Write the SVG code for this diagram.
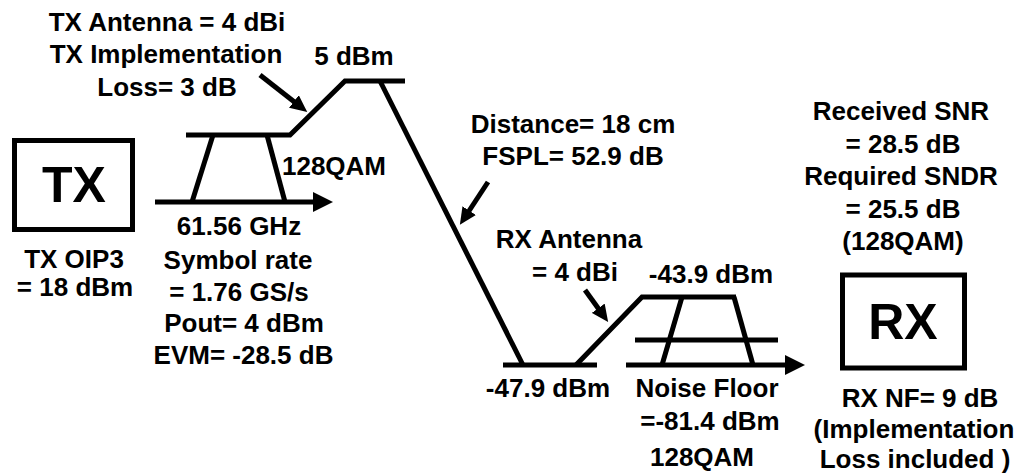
<svg xmlns="http://www.w3.org/2000/svg" width="1022" height="475" viewBox="0 0 1022 475">
<style>
text{font-family:"Liberation Sans",Arial,sans-serif;font-weight:bold;font-size:26px;fill:#000;text-anchor:middle}
.big{font-size:50px}
.ln{fill:none;stroke:#000;stroke-width:5;stroke-linecap:butt;stroke-linejoin:miter}
.box{fill:#fff;stroke:#000;stroke-width:5}
</style>
<defs>
<marker id="ah" viewBox="0 0 17 16" refX="4" refY="8" markerWidth="17" markerHeight="16" markerUnits="userSpaceOnUse" orient="auto"><path d="M0,0 L17,8 L0,16 z" fill="#000"/></marker>
<marker id="bigah" viewBox="0 0 20 20" refX="2" refY="10" markerWidth="20" markerHeight="20" markerUnits="userSpaceOnUse" orient="auto"><path d="M0,0 L20,10 L0,20 z" fill="#000"/></marker>
</defs>
<g id="tx">
<rect class="box" x="14.5" y="140.5" width="118" height="89"/>
<text class="big" x="74" y="202">TX</text>
<text x="74" y="268">TX OIP3</text>
<text x="75" y="296">= 18 dBm</text>
</g>
<g id="tx-spectrum">
<polyline class="ln" points="213,135 192,202"/>
<polyline class="ln" points="267,135 285,202"/>
<text x="334" y="175">128QAM</text>
<text x="239" y="235">61.56 GHz</text>
<text x="238" y="269">Symbol rate</text>
<text x="239" y="301">= 1.76 GS/s</text>
<text x="244" y="332">Pout= 4 dBm</text>
<text x="243.5" y="364">EVM= -28.5 dB</text>
</g>
<g id="tx-antenna">
<text x="167" y="31">TX Antenna = 4 dBi</text>
<text x="166" y="63">TX Implementation</text>
<text x="167" y="96">Loss= 3 dB</text>
<text x="354" y="65">5 dBm</text>
</g>
<g id="path-loss">
<text x="573" y="133">Distance= 18 cm</text>
<text x="573" y="165">FSPL= 52.9 dB</text>
<text x="548" y="397">-47.9 dBm</text>
</g>
<g id="rx-antenna">
<text x="569" y="248">RX Antenna</text>
<text x="575" y="281">= 4 dBi</text>
<text x="711" y="283">-43.9 dBm</text>
</g>
<g id="rx-spectrum">
<polyline class="ln" points="682,297 662,365"/>
<polyline class="ln" points="734,297 753,365"/>
<polyline class="ln" points="635,340 778,340"/>
<text x="707" y="397">Noise Floor</text>
<text x="710" y="430">=-81.4 dBm</text>
<text x="702" y="466">128QAM</text>
</g>
<g id="rx">
<text x="901" y="120">Received SNR</text>
<text x="903" y="153">= 28.5 dB</text>
<text x="901" y="185">Required SNDR</text>
<text x="903" y="218">= 25.5 dB</text>
<text x="903" y="250">(128QAM)</text>
<rect class="box" x="842.5" y="275" width="122" height="93"/>
<text class="big" x="903" y="339">RX</text>
<text x="920" y="407">RX NF= 9 dB</text>
<text x="914" y="438">(Implementation</text>
<text x="915" y="468">Loss included )</text>
</g>
<g id="connectors">
<polyline class="ln" points="186,135 290,135 345,81 405,81"/>
<polyline class="ln" points="380,81 523,365"/>
<polyline class="ln" points="503,365 597,365"/>
<polyline class="ln" points="576,365 642,297 736,297"/>
<line class="ln" x1="155" y1="202" x2="315" y2="202" marker-end="url(#bigah)"/>
<line class="ln" x1="626" y1="365" x2="787" y2="365" marker-end="url(#bigah)"/>
<line class="ln" x1="260" y1="75" x2="297" y2="104" marker-end="url(#ah)"/>
<line class="ln" x1="488" y1="182" x2="467" y2="214" marker-end="url(#ah)"/>
<line class="ln" x1="585" y1="290" x2="600.5" y2="311.5" marker-end="url(#ah)"/>
</g>
</svg>
